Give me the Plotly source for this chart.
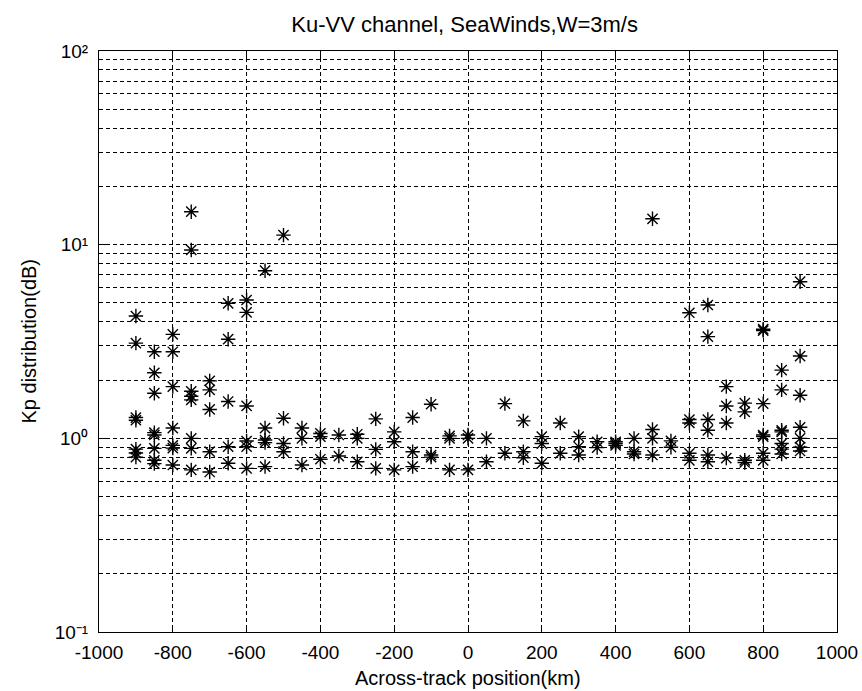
import plotly.graph_objects as go

# Kp samples per across-track cell (km), SeaWinds Ku-VV, wind speed 3 m/s
cell_km = [-900, -850, -800, -750, -700, -650, -600, -550, -500, -450,
           -400, -350, -300, -250, -200, -150, -100, -50, 0, 50,
           100, 150, 200, 250, 300, 350, 400, 450, 500, 550,
           600, 650, 700, 750, 800, 850, 900]

kp_cells = [
    [4.28, 3.10, 1.28, 1.24, 0.88, 0.84, 0.80],
    [2.80, 2.18, 1.71, 1.07, 1.04, 0.887, 0.77, 0.74],
    [3.44, 2.80, 1.85, 1.13, 0.92, 0.89, 0.728],
    [14.8, 9.39, 1.75, 1.65, 1.58, 1.0, 0.887, 0.687],
    [1.98, 1.78, 1.41, 0.853, 0.67],
    [4.98, 3.25, 1.55, 0.905, 0.743],
    [5.18, 4.47, 1.47, 0.968, 0.905, 0.70],
    [7.34, 1.13, 0.98, 0.95, 0.714],
    [11.2, 1.27, 0.94, 0.853],
    [1.13, 1.0, 0.728],
    [1.06, 1.02, 0.78],
    [1.04, 0.81],
    [1.05, 1.0, 0.757],
    [1.26, 0.877, 0.70],
    [1.08, 0.96, 0.687],
    [1.28, 0.853, 0.714],
    [1.50, 0.82, 0.80],
    [1.03, 1.0, 0.687],
    [1.04, 1.0, 0.687],
    [1.0, 0.757],
    [1.51, 0.837],
    [1.23, 0.853, 0.794],
    [1.02, 0.94, 0.743],
    [1.20, 0.837],
    [1.02, 0.905, 0.82],
    [0.96, 0.895],
    [0.96, 0.94, 0.92],
    [1.0, 0.853, 0.83],
    [13.6, 1.11, 1.0, 0.82],
    [0.97, 0.90],
    [4.45, 1.25, 1.2, 0.837, 0.77],
    [4.88, 3.35, 1.25, 1.10, 0.82, 0.757],
    [1.85, 1.47, 1.20, 0.79],
    [1.52, 1.37, 0.77, 0.75],
    [3.66, 3.60, 1.51, 1.04, 1.02, 0.837, 0.77],
    [2.25, 1.78, 1.10, 1.08, 0.94, 0.88, 0.83],
    [6.44, 2.66, 1.67, 1.14, 1.0, 0.90, 0.86],
]

x_ticks = [-1000, -800, -600, -400, -200, 0, 200, 400, 600, 800, 1000]
x_tick_text = ["-1000", "-800", "-600", "-400", "-200", "0",
               "200", "400", "600", "800", "1000"]
y_major = [0.1, 1, 10, 100]
y_major_text = ["10\u207b\u00b9", "10\u2070", "10\u00b9", "10\u00b2"]
y_minor = [m * d for d in (0.1, 1, 10) for m in range(2, 10)]

xs, ys = [], []
for pos, vals in zip(cell_km, kp_cells):
    for v in vals:
        xs.append(pos)
        ys.append(v)

FONT = "DejaVu Sans, Liberation Sans, Arial, sans-serif"
SANS = "Liberation Sans, Arial, sans-serif"
TICK_FONT = dict(family=SANS, size=19, color="black")
LABEL_FONT = dict(family=SANS, size=20, color="black")
TITLE_FONT = dict(family=SANS, size=22, color="black")

fig = go.Figure()
fig.add_trace(go.Scatter(
    x=xs, y=ys, mode="markers",
    marker=dict(symbol="asterisk-open", size=12, color="black",
                line=dict(color="black", width=1.4)),
    showlegend=False, cliponaxis=False,
))

grid = dict(showgrid=True, gridcolor="black", gridwidth=1, griddash="4px,3px")

fig.update_xaxes(
    range=[-1000, 1000], tickmode="array", tickvals=x_ticks, ticktext=x_tick_text,
    ticks="inside", ticklen=7, tickcolor="black",
    showline=True, linecolor="black", linewidth=1, mirror="ticks",
    zeroline=False, tickfont=TICK_FONT, ticklabelstandoff=3,
    automargin=False, **grid,
)
fig.update_yaxes(
    type="log", range=[-1, 2], tickmode="array",
    tickvals=y_major, ticktext=y_major_text,
    ticks="inside", ticklen=7, tickcolor="black",
    showline=True, linecolor="black", linewidth=1, mirror="ticks",
    zeroline=False, tickfont=TICK_FONT, ticklabelstandoff=6,
    automargin=False,
    minor=dict(tickmode="array", tickvals=y_minor, ticks="inside",
               ticklen=4, tickcolor="black", showgrid=True,
               gridcolor="black", gridwidth=1, griddash="4px,3px"),
    **grid,
)

# axis titles placed in pixel offsets from the plot frame
fig.add_annotation(text="Across-track position(km)", xref="paper", yref="paper",
                   x=0.5, y=0, xanchor="center", yanchor="middle", yshift=-46,
                   showarrow=False, font=LABEL_FONT)
fig.add_annotation(text="Kp distribution(dB)", xref="paper", yref="paper",
                   x=0, y=0.5, xanchor="center", yanchor="middle", xshift=-71,
                   textangle=-90, showarrow=False, font=LABEL_FONT)

fig.update_layout(
    width=862, height=691,
    margin=dict(l=99, r=25, t=51, b=59),
    paper_bgcolor="white", plot_bgcolor="white",
    title=dict(text="Ku-VV channel, SeaWinds,W=3m/s", x=0.539, xanchor="center",
               y=0.965, yanchor="middle", font=TITLE_FONT),
)

fig.write_html("out.html")
